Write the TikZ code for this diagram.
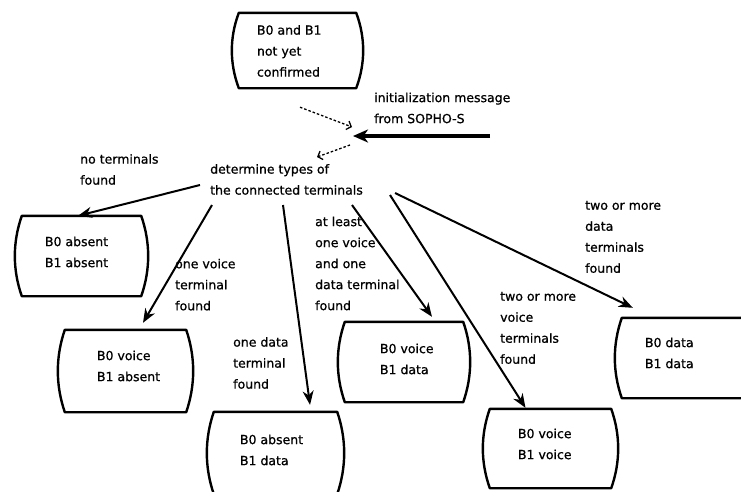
\documentclass[tikz,border=0pt]{standalone}
\usepackage{fontspec}
\setmainfont[FakeBold=0.8]{DejaVu Sans}
\usetikzlibrary{arrows.meta,calc}

% State symbol: straight top and bottom, outward-bulging sides
\newcommand\stateoutline[1]{%
  \draw[outline]
    ([xshift=7pt]#1.north west) -- ([xshift=-7pt]#1.north east)
    .. controls ($(#1.north east)!0.33!(#1.south east)+(2.3,0)$)
            and ($(#1.north east)!0.67!(#1.south east)+(2.3,0)$) .. ([xshift=-7pt]#1.south east)
    -- ([xshift=7pt]#1.south west)
    .. controls ($(#1.south west)!0.33!(#1.north west)+(-2.3,0)$)
            and ($(#1.south west)!0.67!(#1.north west)+(-2.3,0)$) .. cycle;}

\begin{document}
\begin{tikzpicture}[x=1pt,y=-1pt,
  txt/.style={font=\fontsize{12.5}{21}\selectfont, align=left, inner sep=0pt,
    anchor=west, execute at begin node=\strut, execute at end node=\strut},
  statebox/.style={draw=none, inner sep=0pt},
  outline/.style={line width=2.4pt, line join=round},
  arr/.style={line width=2pt, -{Stealth[length=14pt,width=11pt,inset=4.5pt]}},
  initarr/.style={line width=3.2pt, -{Stealth[length=15pt,width=13pt,inset=4.5pt]}},
  dotarr/.style={line width=1.3pt, dash pattern=on 2.5pt off 2pt,
    -{Straight Barb[length=4pt,width=9pt,line width=1.3pt]}}]
\useasboundingbox (0,0) rectangle (741,491);
\clip (0,0) rectangle (741,491);

% states
\node[statebox, minimum width=131pt, minimum height=75pt] (b1) at (297.5,50.5) {};
\node[txt] (b1t) at ($(b1.west)+(25,3.5)$) {B0 and B1\\not yet\\confirmed};
\node[statebox, minimum width=133pt, minimum height=80pt] (b2) at (81.5,256) {};
\node[txt] (b2t) at ($(b2.west)+(30,-1)$) {B0 absent\\B1 absent};
\node[statebox, minimum width=135pt, minimum height=82pt] (b3) at (125.5,371) {};
\node[txt] (b3t) at ($(b3.west)+(39,-2)$) {B0 voice\\B1 absent};
\node[statebox, minimum width=137pt, minimum height=82pt] (b4) at (275.5,453) {};
\node[txt] (b4t) at ($(b4.west)+(33,0)$) {B0 absent\\B1 data};
\node[statebox, minimum width=132pt, minimum height=80pt] (b5) at (404,362) {};
\node[txt] (b5t) at ($(b5.west)+(42,0)$) {B0 voice\\B1 data};
\node[statebox, minimum width=135pt, minimum height=79pt] (b6) at (550.5,448.5) {};
\node[txt] (b6t) at ($(b6.west)+(35,-1.5)$) {B0 voice\\B1 voice};
\node[statebox, minimum width=140pt, minimum height=80pt] (b7) at (685,358) {};
\node[txt] (b7t) at ($(b7.west)+(30,-2)$) {B0 data\\B1 data};

\foreach \s in {b1,b2,b3,b4,b5,b6,b7} {\stateoutline{\s}}

% texts
\node[txt] (init) at (374,111) {initialization message\\from SOPHO-S};
\node[txt] (det) at (210,182.5) {determine types of\\the connected terminals};
\node[txt] (l0) at (80,172.5) {no terminals\\found};
\node[txt] (l1) at (175,287.7) {one voice\\terminal\\found};
\node[txt] (l2) at (233,366) {one data\\terminal\\found};
\node[txt] (l3) at (315,266.5) {at least\\one voice\\and one\\data terminal\\found};
\node[txt] (l4) at (500,331) {two or more\\voice\\terminals\\found};
\node[txt] (l5) at (585,240) {two or more\\data\\terminals\\found};

% incoming message
\coordinate (j) at (355,136);
\coordinate (src) at (490,136);
\draw[dotarr] ($(b1.south)+(2.5,19)$) -- ($(j)+(-3,-9)$);
\draw[initarr] (src) -- ($(j)+(-2,0)$);
\draw[dotarr] ($(j)+(-5,9)$) -- ($(det.west)+(107,-25.5)$);

% outcomes
\draw[arr] ($(det.west)+(-10,2.5)$) -- ($(b2.north)+(-3.5,0)$);
\draw[arr] ($(det.west)+(2,22.5)$) -- ($(b3.north)+(17.5,-7)$);
\draw[arr] ($(det.west)+(73,22.5)$) -- ($(b4.north)+(34.5,-7)$);
\draw[arr] ($(det.west)+(142,22.5)$) -- ($(b5.north)+(28,-5)$);
\draw[arr] ($(det.west)+(180,12.5)$) -- ($(b6.north)+(-25,-1)$);
\draw[arr] ($(det.west)+(185,10.5)$) -- ($(b7.north west)+(18,-10)$);
\end{tikzpicture}
\end{document}
